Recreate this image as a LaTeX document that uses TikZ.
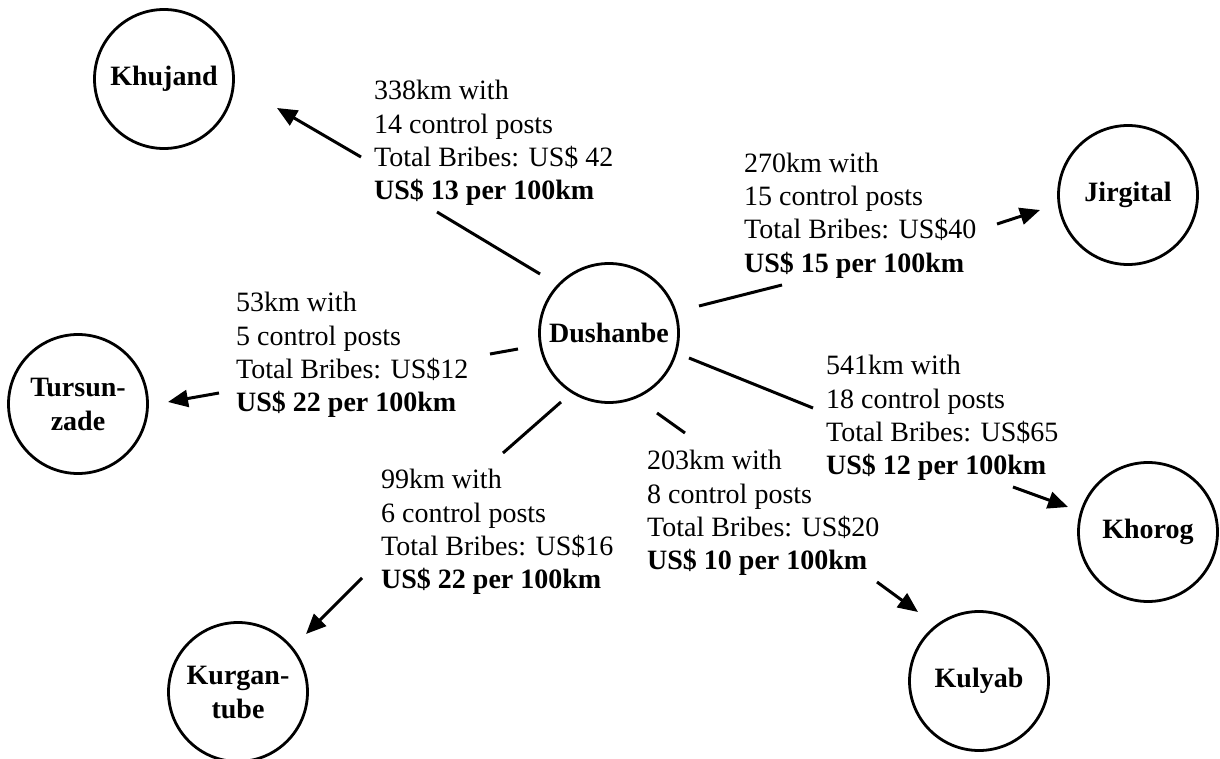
\documentclass[tikz,border=0pt]{standalone}
\usepackage{fontspec}
\setmainfont{Liberation Serif}
\usetikzlibrary{arrows.meta}
\begin{document}
\begin{tikzpicture}[x=1pt,y=-1pt,
  city/.style={circle,draw,line width=2.8pt,minimum size=139pt,inner sep=0pt,align=center,
    font=\fontsize{28}{34}\selectfont\bfseries},
  lbl/.style={anchor=west,inner sep=0pt,align=left,font=\fontsize{28}{33.4}\selectfont},
  seg/.style={line width=3pt},
  arr/.style={line width=3pt,-{Triangle[length=20pt,width=17pt]}}]
\useasboundingbox (0,0) rectangle (1220,759);
% cities
\node[city] (dus) at (609,333) {Dushanbe};
\node[city] (khu) at (164,79) {Khujand};
\node[city] (jir) at (1128,195) {Jirgital};
\node[city] (tur) at (78,404) {Tursun-\\zade};
\node[city] (kur) at (238,692) {Kurgan-\\tube};
\node[city] (kul) at (979,681) {Kulyab};
\node[city] (kho) at (1148,532) {Khorog};
% labels
\node[lbl] (lkhu) at (374,143) {338km with\\14 control posts\\Total Bribes: US\$ 42\\\textbf{US\$ 13 per 100km}};
\node[lbl] (ljir) at (744,215.5) {270km with\\15 control posts\\Total Bribes: US\$40\\\textbf{US\$ 15 per 100km}};
\node[lbl] (ltur) at (236,355) {53km with\\5 control posts\\Total Bribes: US\$12\\\textbf{US\$ 22 per 100km}};
\node[lbl] (lkur) at (381,532) {99km with\\6 control posts\\Total Bribes: US\$16\\\textbf{US\$ 22 per 100km}};
\node[lbl] (lkul) at (647,513) {203km with\\8 control posts\\Total Bribes: US\$20\\\textbf{US\$ 10 per 100km}};
\node[lbl] (lkho) at (826,418) {541km with\\18 control posts\\Total Bribes: US\$65\\\textbf{US\$ 12 per 100km}};
% connector end points
\coordinate (dkhu) at (540,274); \coordinate (skhu) at (437,212);
\coordinate (akhu) at (361,157); \coordinate (tkhu) at (277,108);
\coordinate (djir) at (699,306); \coordinate (sjir) at (782,285);
\coordinate (ajir) at (997,224); \coordinate (tjir) at (1040,210);
\coordinate (dtur) at (518,349); \coordinate (stur) at (490,354);
\coordinate (atur) at (219,393); \coordinate (ttur) at (168,402);
\coordinate (dkur) at (561,402); \coordinate (skur) at (503,453);
\coordinate (akur) at (362,578); \coordinate (tkur) at (306,634);
\coordinate (dkul) at (657,413); \coordinate (skul) at (685,433);
\coordinate (akul) at (877,582); \coordinate (tkul) at (918,612);
\coordinate (dkho) at (689,358); \coordinate (skho) at (813,408);
\coordinate (akho) at (1013,487); \coordinate (tkho) at (1068,507);
% connectors
\draw[seg] (dkhu) -- (skhu); \draw[arr] (akhu) -- (tkhu);
\draw[seg] (djir) -- (sjir); \draw[arr] (ajir) -- (tjir);
\draw[seg] (dtur) -- (stur); \draw[arr] (atur) -- (ttur);
\draw[seg] (dkur) -- (skur); \draw[arr] (akur) -- (tkur);
\draw[seg] (dkul) -- (skul); \draw[arr] (akul) -- (tkul);
\draw[seg] (dkho) -- (skho); \draw[arr] (akho) -- (tkho);
\end{tikzpicture}
\end{document}
